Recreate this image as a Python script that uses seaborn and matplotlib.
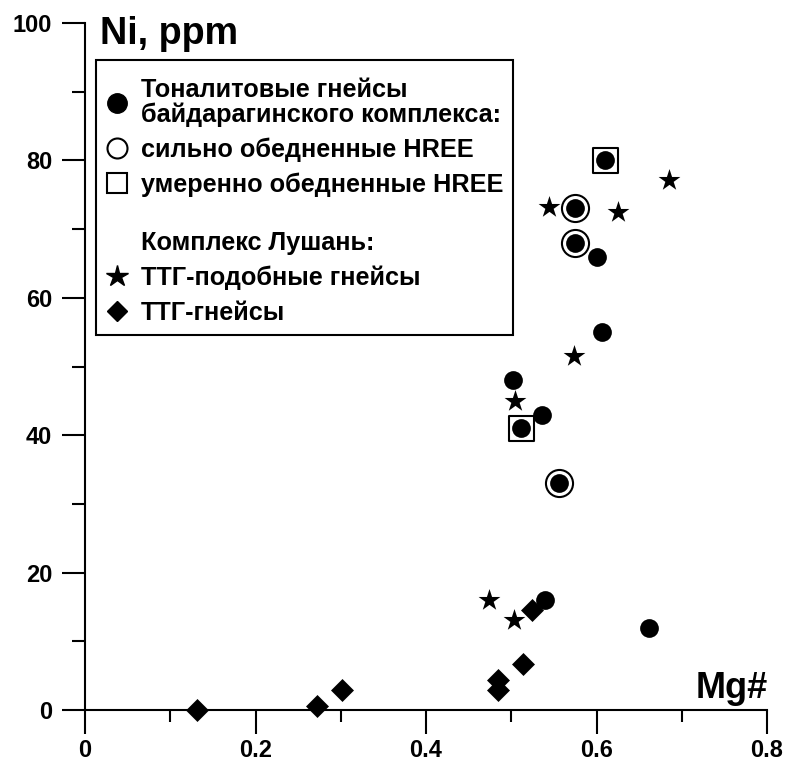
import matplotlib
matplotlib.use("Agg")
import matplotlib.pyplot as plt
import seaborn as sns
import pandas as pd
from matplotlib.lines import Line2D
from matplotlib.patches import Rectangle
from matplotlib.ticker import MultipleLocator

# ---- data (Mg#, Ni ppm) ----
tonalite_x = [0.61, 0.575, 0.575, 0.601, 0.606, 0.502, 0.536, 0.511, 0.556, 0.540, 0.662]
tonalite_y = [80.0, 73.0, 68.0, 66.0, 55.0, 48.0, 43.0, 41.0, 33.0, 16.0, 12.0]
strong_x = [0.575, 0.575, 0.556]          # сильно обедненные HREE (rings)
strong_y = [73.0, 68.0, 33.0]
moderate_x = [0.61, 0.511]                # умеренно обедненные HREE (squares)
moderate_y = [80.0, 41.0]
ttg_like_x = [0.544, 0.625, 0.685, 0.574, 0.504, 0.474, 0.503]
ttg_like_y = [73.2, 72.5, 77.1, 51.6, 45.0, 16.0, 13.1]
ttg_x = [0.131, 0.272, 0.302, 0.484, 0.484, 0.514, 0.524]
ttg_y = [0.0, 0.6, 2.9, 2.9, 4.4, 6.7, 14.6]

x_ticks = [0, 0.2, 0.4, 0.6, 0.8]
x_tick_labels = ["0", "0.2", "0.4", "0.6", "0.8"]
y_ticks = [0, 20, 40, 60, 80, 100]
y_tick_labels = ["0", "20", "40", "60", "80", "100"]

legend_labels = [
    "Тоналитовые гнейсы\nбайдарагинского комплекса:",
    "сильно обедненные HREE",
    "умеренно обедненные HREE",
    "\nКомплекс Лушань:",
    "ТТГ-подобные гнейсы",
    "ТТГ-гнейсы",
]

sns.set_theme(style="white")
plt.rcParams["font.family"] = ["Liberation Sans", "DejaVu Sans"]
plt.rcParams["font.weight"] = "bold"
for k in ["text.color", "axes.labelcolor", "xtick.color", "ytick.color", "axes.edgecolor"]:
    plt.rcParams[k] = "black"

W, H = 790, 769
fig = plt.figure(figsize=(W / 100, H / 100), dpi=100)
ax = fig.add_axes([85 / W, 1 - 710 / H, (767 - 85) / W, (710 - 23) / H])
ax.set_facecolor("white")

df_t = pd.DataFrame({"x": tonalite_x, "y": tonalite_y})
df_s = pd.DataFrame({"x": strong_x, "y": strong_y})
df_m = pd.DataFrame({"x": moderate_x, "y": moderate_y})
df_l = pd.DataFrame({"x": ttg_like_x, "y": ttg_like_y})
df_g = pd.DataFrame({"x": ttg_x, "y": ttg_y})

common = dict(ax=ax, legend=False, clip_on=False)
sns.scatterplot(data=df_g, x="x", y="y", marker="D", s=11.7 ** 2, color="black",
                edgecolor="black", linewidth=0, zorder=3, **common)
sns.scatterplot(data=df_l, x="x", y="y", marker="*", s=16.5 ** 2, color="black",
                edgecolor="black", linewidth=0, zorder=3, **common)
sns.scatterplot(data=df_s, x="x", y="y", marker="o", s=19.5 ** 2, color="white",
                edgecolor="black", linewidth=1.5, zorder=4, **common)
sns.scatterplot(data=df_m, x="x", y="y", marker="s", s=18.0 ** 2, color="white",
                edgecolor="black", linewidth=1.5, zorder=4, **common)
sns.scatterplot(data=df_t, x="x", y="y", marker="o", s=13.5 ** 2, color="black",
                edgecolor="black", linewidth=0, zorder=5, **common)

ax.set_xlim(0, 0.8)
ax.set_ylim(0, 100)
for s in ["top", "right"]:
    ax.spines[s].set_visible(False)
for s in ["bottom", "left"]:
    ax.spines[s].set_linewidth(1.5)
    ax.spines[s].set_color("black")

ax.set_xticks(x_ticks)
ax.set_xticklabels(x_tick_labels)
ax.set_yticks(y_ticks)
ax.set_yticklabels(y_tick_labels)
ax.xaxis.set_minor_locator(MultipleLocator(0.1))
ax.yaxis.set_minor_locator(MultipleLocator(10))
ax.tick_params(axis="x", which="major", direction="out", length=17, width=1.5,
               color="black", labelcolor="black", labelsize=17, pad=4, bottom=True)
ax.tick_params(axis="x", which="minor", direction="out", length=8.6, width=1.5,
               color="black", bottom=True)
ax.tick_params(axis="y", which="major", direction="out", length=16.5, width=1.5,
               color="black", labelcolor="black", labelsize=17, pad=7, left=True)
ax.tick_params(axis="y", which="minor", direction="out", length=9.3, width=1.5,
               color="black", left=True)
for lab in ax.get_xticklabels() + ax.get_yticklabels():
    lab.set_fontweight("bold")
ax.set_xlabel("")
ax.set_ylabel("")

fig.text(100 / W, 1 - 44 / H, "Ni, ppm", fontsize=27.2, fontweight="bold",
         color="black", ha="left", va="baseline")
fig.text(768 / W, 1 - 698 / H, "Mg#", fontsize=26, fontweight="bold",
         color="black", ha="right", va="baseline")

handles = [
    Line2D([], [], linestyle="none", marker="o", markersize=14,
           markerfacecolor="black", markeredgecolor="black"),
    Line2D([], [], linestyle="none", marker="o", markersize=14.4,
           markerfacecolor="white", markeredgecolor="black", markeredgewidth=1.5),
    Line2D([], [], linestyle="none", marker="s", markersize=15,
           markerfacecolor="white", markeredgecolor="black", markeredgewidth=1.5),
    Line2D([], [], linestyle="none"),
    Line2D([], [], linestyle="none", marker="*", markersize=16,
           markerfacecolor="black", markeredgecolor="black"),
    Line2D([], [], linestyle="none", marker="D", markersize=10,
           markerfacecolor="black", markeredgecolor="black"),
]
leg = ax.legend(handles, legend_labels, loc="upper left",
                bbox_to_anchor=(105.7 / W, 1 - 78 / H), bbox_transform=fig.transFigure,
                borderaxespad=0, frameon=False, prop={"size": 18.15, "weight": "bold"},
                handlelength=0.9, handleheight=0.7, handletextpad=0.5,
                borderpad=0, labelspacing=0.42)
for t in leg.get_texts():
    t.set_color("black")
leg.get_texts()[0].set_linespacing(1.03)
leg.get_texts()[3].set_linespacing(0.95)

# legend frame
fig.add_artist(Rectangle((96 / W, 1 - 335 / H), (513 - 96) / W, (335 - 60) / H,
                         transform=fig.transFigure, facecolor="none",
                         edgecolor="black", linewidth=1.5, zorder=10))

fig.savefig("out.png", dpi=100, facecolor="white")
